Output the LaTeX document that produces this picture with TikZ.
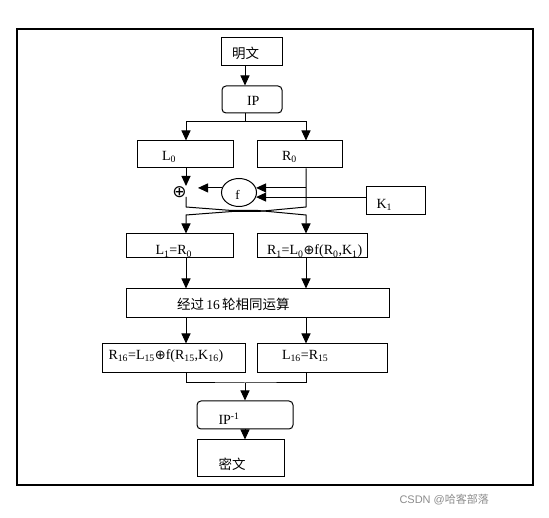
\documentclass[tikz,border=0pt]{standalone}
\usepackage{fontspec}
\setmainfont{Liberation Serif}
\newfontfamily\cjk{Noto Sans CJK SC}
\newfontfamily\wmfont{Liberation Sans}
\newfontfamily\symfont{DejaVu Sans}
\usetikzlibrary{arrows.meta,shapes.geometric}
\newcommand{\xorsym}{{\symfont\fontsize{13}{14}\selectfont ⊕}}
\begin{document}
\begin{tikzpicture}[x=1pt,y=-1pt,line width=1pt,
  box/.style 2 args={draw,rectangle,inner sep=0pt,minimum width=#1,minimum height=#2},
  rbox/.style 2 args={box={#1}{#2},rounded corners=4pt},
  lbl/.style={anchor=base west,inner sep=0pt,font=\fontsize{14}{16}\selectfont},
  clbl/.style={anchor=west,inner sep=0pt,font=\cjk\fontsize{13.5}{16}\selectfont},
  arr/.style={-{Triangle[width=9pt,length=10pt]}}]
\useasboundingbox (0,0) rectangle (549,518);
\draw[line width=1.3pt] (17,29) rectangle (533,485);

% boxes
\node[box={61pt}{28pt}] (mw) at (251.5,52) {};
\node[rbox={60pt}{27pt}] (ip) at (252,99.5) {};
\node[box={96pt}{27pt}] (L0) at (185,154.5) {};
\node[box={85pt}{27pt}] (R0) at (299.5,154.5) {};
\node[draw,ellipse,inner sep=0pt,minimum width=35pt,minimum height=28pt] (f) at (239,192.5) {};
\node[box={59pt}{28pt}] (K1) at (395.5,201) {};
\node[box={107pt}{24pt}] (L1) at (179.5,246) {};
\node[box={110pt}{24pt}] (R1) at (312,246) {};
\node[box={263pt}{29pt}] (big) at (257.5,303.5) {};
\node[box={143pt}{29pt}] (R16) at (173.5,358.5) {};
\node[box={130pt}{29pt}] (L16) at (322,358.5) {};
\node[rbox={96pt}{28pt}] (ipi) at (245,415) {};
\node[box={87pt}{36pt}] (mi) at (240.5,458) {};

% texts
\node[clbl] (tmw) at (231.5,53) {明文};
\node[lbl] (tip) at (246.5,106) {IP};
\node[lbl] (tL0) at (161.5,160.7) {L\textsubscript{0}};
\node[lbl] (tR0) at (281.5,160.7) {R\textsubscript{0}};
\node[inner sep=0pt,font=\fontsize{13}{14}\selectfont] (tf) at (237.5,195) {f};
\node[inner sep=0pt,font=\symfont\fontsize{17}{18}\selectfont] (xor) at (179.5,192) {⊕};
\node[lbl] (tK1) at (376,208.5) {K\textsubscript{1}};
\node[lbl] (tL1) at (155,255) {L\textsubscript{1}=R\textsubscript{0}};
\node[lbl] (tR1) at (266.5,255) {R\textsubscript{1}=L\textsubscript{0}\xorsym f(R\textsubscript{0},K\textsubscript{1})};
\node[clbl] (tbig) at (176.5,304) {经过\,\fontspec{Liberation Serif}16\,\cjk 轮相同运算};
\node[lbl] (tR16) at (108,359.5) {R\textsubscript{16}=L\textsubscript{15}\xorsym f(R\textsubscript{15},K\textsubscript{16})};
\node[lbl] (tL16) at (281.5,359.5) {L\textsubscript{16}=R\textsubscript{15}};
\node[lbl] (tipi) at (218,424.3) {IP\textsuperscript{-1}};
\node[clbl] (tmi) at (218,464) {密文};
\node[anchor=west,inner sep=0pt,text=black!45,font=\wmfont\fontsize{11}{13}\selectfont] (wm) at (399,500) {CSDN @{\cjk 哈客部落}};

% coordinates
\coordinate (cx) at (245,0);
\coordinate (lx) at (186,0);
\coordinate (rx) at (306,0);
\coordinate (j1) at (245,122);
\coordinate (xa) at (186,186);
\coordinate (xb) at (186,197);
\coordinate (xt) at (198,0);
\coordinate (a1) at (186,207);
\coordinate (m1) at (232,210.5);
\coordinate (m2) at (258,210.5);
\coordinate (a2) at (306,215);
\coordinate (b1) at (306,207);
\coordinate (n2) at (258,211.5);
\coordinate (n1) at (232,211.5);
\coordinate (b2) at (186,215);
\coordinate (j2) at (245,383);

% connectors
\draw[arr] (mw.south -| cx) -- (ip.north -| cx);
\draw[arr] (ip.south -| cx) -- (j1) -| (L0.north -| lx);
\draw[arr] (j1) -| (R0.north -| rx);
\draw[arr] (L0.south -| lx) -- (xa);
\draw[arr] (f.165) -- (f.165 -| xt);
\draw[arr] (f.15 -| rx) -- (f.15);
\draw[arr] (K1.west |- f.-15) -- (f.-15);
\draw[arr] (xb) -- (a1) -- (m1) -- (m2) -- (a2) -- (R1.north -| rx);
\draw[arr] (R0.south -| rx) -- (b1) -- (n2) -- (n1) -- (b2) -- (L1.north -| lx);
\draw[arr] (L1.south -| lx) -- (big.north -| lx);
\draw[arr] (R1.south -| rx) -- (big.north -| rx);
\draw[arr] (big.south -| lx) -- (R16.north -| lx);
\draw[arr] (big.south -| rx) -- (L16.north -| rx);
\draw (R16.south -| lx) |- (j2) -| (L16.south -| rx);
\draw[arr] (j2) -- (ipi.north -| j2);
\draw[arr] (ipi.south -| cx) -- (mi.north -| cx);
\end{tikzpicture}
\end{document}
